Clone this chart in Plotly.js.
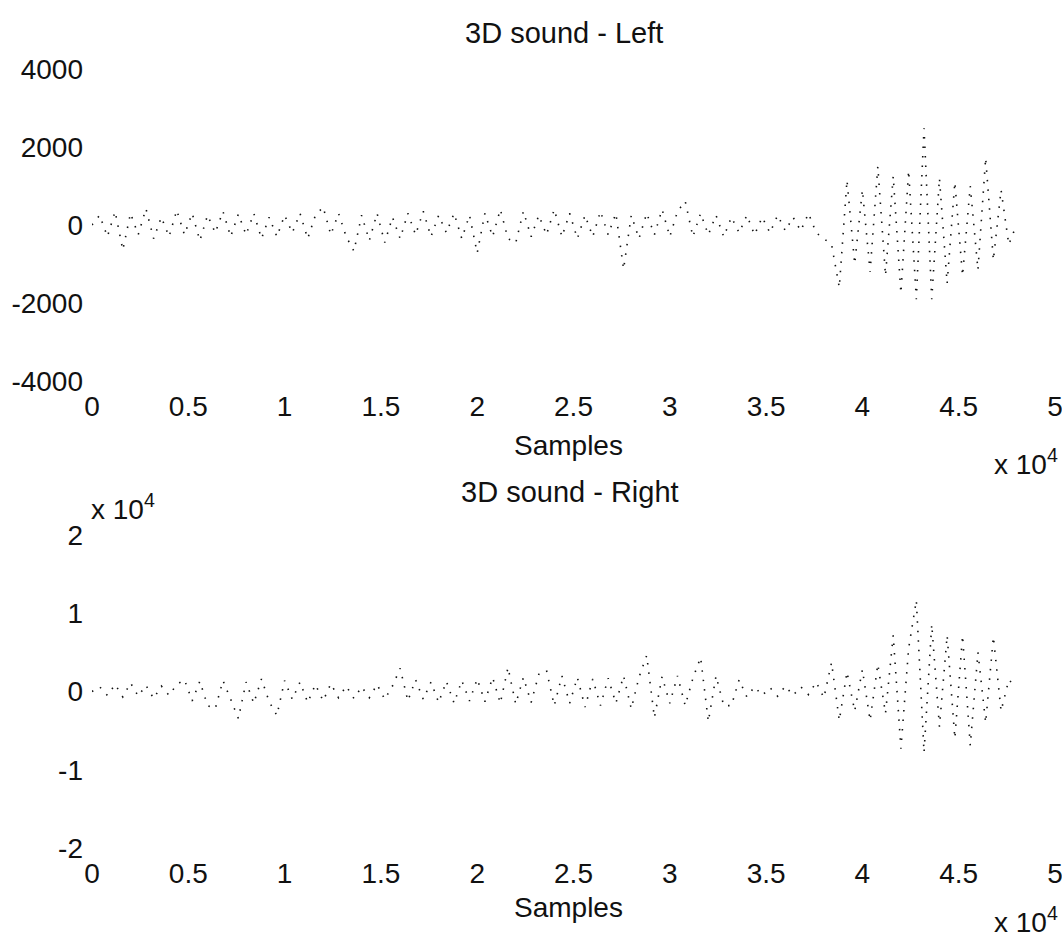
<!DOCTYPE html>
<html>
<head>
<meta charset="utf-8">
<script src="https://cdn.plot.ly/plotly-3.0.1.min.js"></script>
<style>html,body{margin:0;padding:0;background:#fff;}#chart{width:1062px;height:939px;}</style>
</head>
<body>
<div id="chart"></div>
<script>
// Samples are plotted against their index (MATLAB plot(y)), one value every sampleStep samples
const sampleStep = 400;

const leftChannel = [
  0, 250, -300, 350, -640, 300, -250, 420, -350, 200,
  -300, 380, -250, 300, -400, 250, -200, 350, -300, 280,
  -250, 300, -350, 200, -300, 250, -200, 300, -350, 250,
  460, -250, 300, -300, -670, 250, -400, 300, -450, 200,
  -350, 300, -250, 350, -300, 250, -200, 300, -350, 250,
  -720, 300, -300, 400, -350, -460, 350, -300, 250, -250,
  400, -300, 300, -350, 250, -300, 350, -250, 300, -1130,
  250, -350, 300, -250, 400, -300, 350, 610, -300, 300,
  -250, 250, -300, 200, -200, 250, -250, 200, -200, 250,
  -150, 200, -150, 300, -200, -350, -500, -1600, 1150, -1000,
  900, -1200, 1500, -1300, 1250, -1750, 1400, -1900, 2480, -1900,
  1200, -1500, 1100, -1300, 1000, -1150, 1720, -900, 900, -500,
  0
];

const rightChannel = [
  0, 600, -500, 900, -700, 1100, -600, 800, -900, 700,
  -500, 900, 1500, -1200, 1300, -1800, -2200, 1400, -1000, -3450,
  1200, -1500, 1600, -1300, -3070, 1400, -1000, 1200, -1400, 900,
  -1200, 1000, -800, 700, -900, 600, -800, 900, -1000, 700,
  2950, -1200, 1500, -1000, 1200, -1400, 1300, -1500, 1400, -1200,
  1600, -1300, 1800, -1500, 3070, -1600, 1800, -1400, 2200, 2690,
  -1800, 2000, -1500, 1800, -2000, 1600, -1800, 1700, -1500, 2000,
  -2200, 1800, 4600, -3330, 1900, -1500, 2000, -1800, 1700, 4350,
  -3840, 2000, -1800, -1800, 1500, -700, 600, -500, 500, -600,
  700, -500, 600, -400, 1200, -800, 3700, -3700, 2500, -2500,
  2800, -3700, 3500, -2800, 7170, -7300, 5500, 11650, -7800, 8580,
  -4500, 7170, -6000, 7170, -6900, 5000, -4000, 7000, -2500, 1500,
  500
];

const xTickVals = [0, 5000, 10000, 15000, 20000, 25000, 30000, 35000, 40000, 45000, 50000];
const xTickText = ['0', '0.5', '1', '1.5', '2', '2.5', '3', '3.5', '4', '4.5', '5'];
const leftTickVals = [-4000, -2000, 0, 2000, 4000];
const leftTickText = ['-4000', '-2000', '0', '2000', '4000'];
const rightTickVals = [-20000, -10000, 0, 10000, 20000];
const rightTickText = ['-2', '-1', '0', '1', '2'];

const titles = ['3D sound - Left', '3D sound - Right'];
const xLabel = 'Samples';

const idxL = leftChannel.map((_, i) => i * sampleStep);
const idxR = rightChannel.map((_, i) => i * sampleStep);

const font = 'Liberation Sans, Arial, Helvetica, sans-serif';
const ink = '#111';
const lineStyle = {color: ink, width: 1.6, dash: '1.5px,8px'};

const traces = [
  {x: idxL, y: leftChannel, type: 'scatter', mode: 'lines', line: lineStyle, xaxis: 'x', yaxis: 'y', hoverinfo: 'skip'},
  {x: idxR, y: rightChannel, type: 'scatter', mode: 'lines', line: lineStyle, xaxis: 'x2', yaxis: 'y2', hoverinfo: 'skip'}
];

const axBase = {
  showline: false, showgrid: false, zeroline: false, ticks: '',
  tickfont: {family: font, size: 28, color: ink}
};

const layout = {
  width: 1062, height: 939,
  margin: {l: 92, r: 7, t: 69, b: 91},
  paper_bgcolor: '#fff', plot_bgcolor: '#fff',
  showlegend: false,
  font: {family: font, color: ink, size: 28},
  xaxis: Object.assign({}, axBase, {anchor: 'y', range: [0, 50000], tickmode: 'array', tickvals: xTickVals, ticktext: xTickText, ticklabelstandoff: 6, ticklabeloverflow: 'allow'}),
  yaxis: Object.assign({}, axBase, {domain: [0.5995, 1], anchor: 'x', range: [-4000, 4000], tickmode: 'array', tickvals: leftTickVals, ticktext: leftTickText, ticklabelstandoff: 8}),
  xaxis2: Object.assign({}, axBase, {anchor: 'y2', range: [0, 50000], tickmode: 'array', tickvals: xTickVals, ticktext: xTickText, ticklabelstandoff: 6, ticklabeloverflow: 'allow'}),
  yaxis2: Object.assign({}, axBase, {domain: [0, 0.4018], anchor: 'x2', range: [-20000, 20000], tickmode: 'array', tickvals: rightTickVals, ticktext: rightTickText, ticklabelstandoff: 8}),
  annotations: [
    {text: titles[0], xref: 'paper', yref: 'paper', x: 0.490, y: 1.0462, showarrow: false, xanchor: 'center', yanchor: 'middle', font: {size: 29}},
    {text: titles[1], xref: 'paper', yref: 'paper', x: 0.4964, y: 0.4570, showarrow: false, xanchor: 'center', yanchor: 'middle', font: {size: 29}},
    {text: xLabel, xref: 'paper', yref: 'paper', x: 0.4953, y: 0.5173, showarrow: false, xanchor: 'center', yanchor: 'middle', font: {size: 28}},
    {text: xLabel, xref: 'paper', yref: 'paper', x: 0.4953, y: -0.0770, showarrow: false, xanchor: 'center', yanchor: 'middle', font: {size: 28}},
    {text: 'x 10<sup>4</sup>', xref: 'paper', yref: 'paper', x: 0.97, y: 0.4955, showarrow: false, xanchor: 'center', yanchor: 'middle', font: {size: 28}},
    {text: 'x 10<sup>4</sup>', xref: 'paper', yref: 'paper', x: 0.97, y: -0.0925, showarrow: false, xanchor: 'center', yanchor: 'middle', font: {size: 28}},
    {text: 'x 10<sup>4</sup>', xref: 'paper', yref: 'paper', x: 0.032, y: 0.4377, showarrow: false, xanchor: 'center', yanchor: 'middle', font: {size: 28}}
  ]
};

Plotly.newPlot('chart', traces, layout, {staticPlot: true, displayModeBar: false});
</script>
</body>
</html>
